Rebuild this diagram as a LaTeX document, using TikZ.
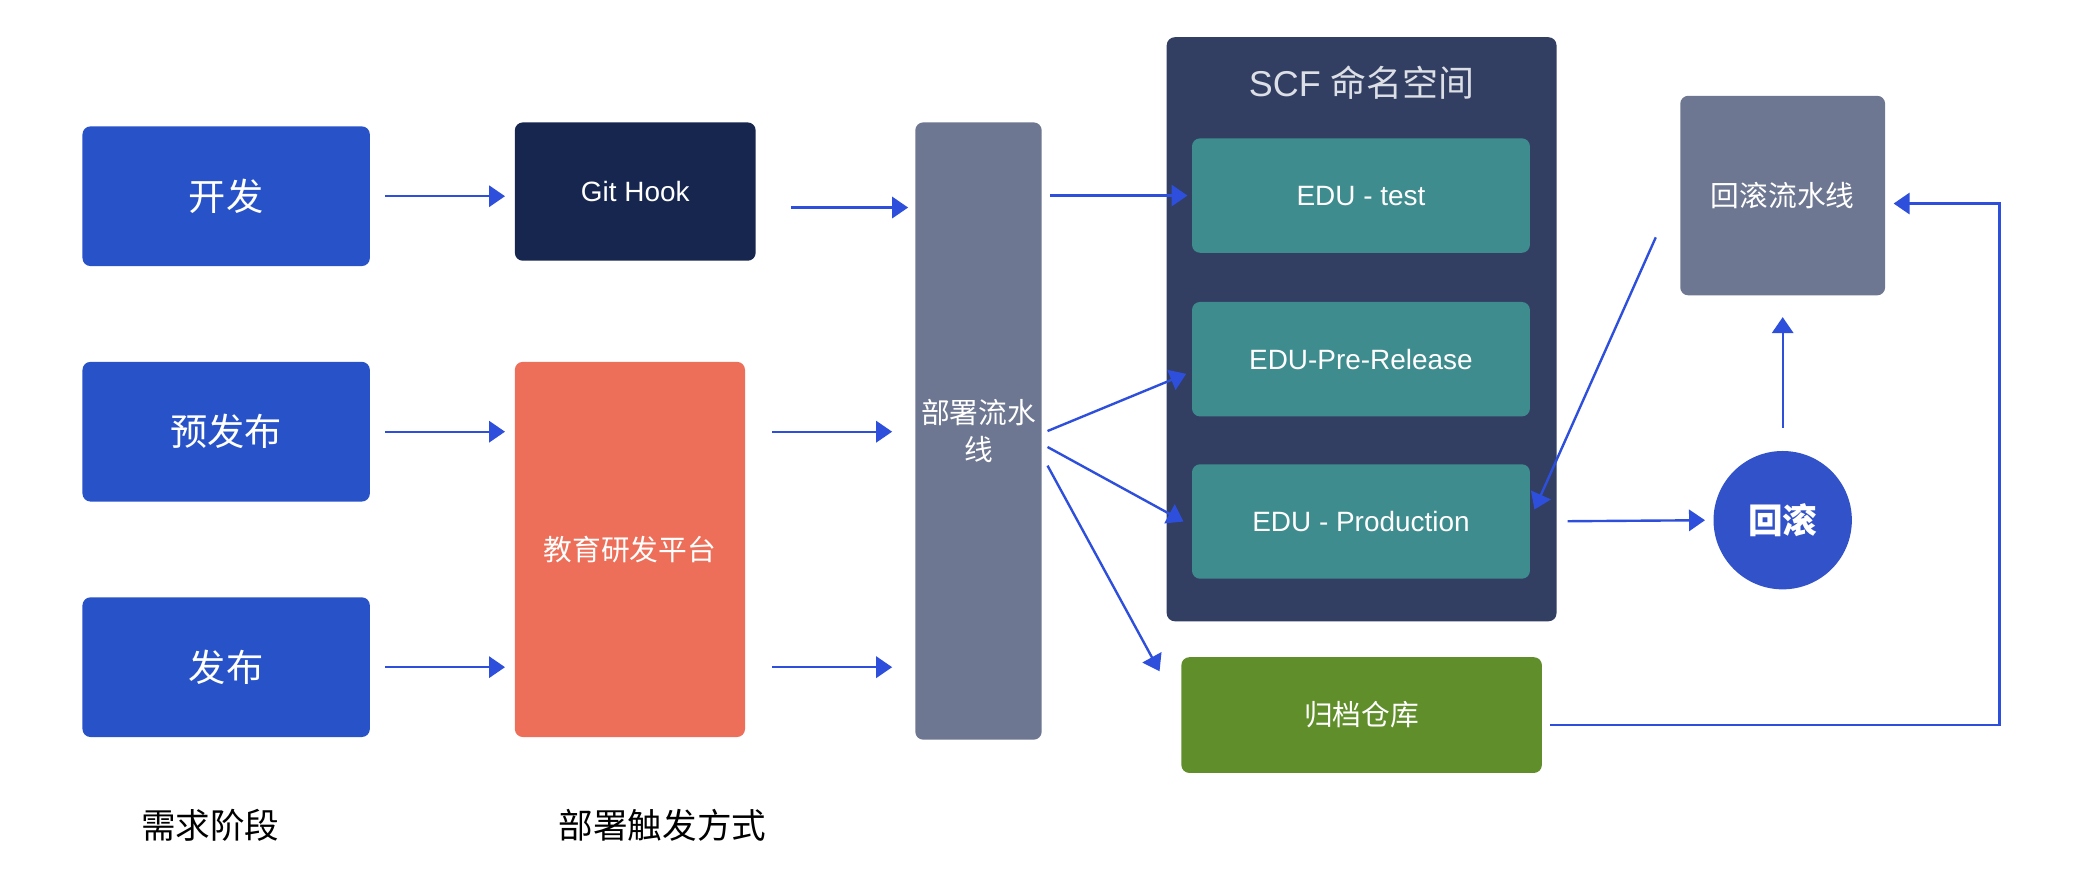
\documentclass[tikz,border=0pt]{standalone}
\usepackage{fontspec}
\setmainfont{Liberation Sans}
\newfontfamily\cjk{Noto Sans CJK SC}
\usetikzlibrary{arrows.meta,positioning,calc}
\definecolor{stageblue}{HTML}{2852C8}
\definecolor{hooknavy}{HTML}{17264F}
\definecolor{platsalmon}{HTML}{EE6F59}
\definecolor{pipegray}{HTML}{6E7791}
\definecolor{scfnavy}{HTML}{323F63}
\definecolor{envteal}{HTML}{3E8C8E}
\definecolor{archgreen}{HTML}{5F8E2A}
\definecolor{rollblue}{HTML}{3152C8}
\definecolor{linkblue}{HTML}{2D4FDB}
\definecolor{titlegray}{HTML}{DCDFE5}

\begin{document}
\begin{tikzpicture}[x=0.5pt,y=-0.5pt,
        every node/.style={text=white, inner sep=0pt, align=center},
        card/.style={rectangle, rounded corners=3pt},
        stage/.style={card, fill=stageblue, minimum width=108pt, minimum height=52.5pt, font=\cjk\fontsize{14}{16}\selectfont},
        env/.style={card, fill=envteal, minimum width=127pt, minimum height=43pt, font=\fontsize{10.5}{12}\selectfont},
        caption/.style={text=black, font=\cjk\fontsize{13}{15}\selectfont},
        link/.style={draw=linkblue, line width=0.9pt, -{Triangle[length=6pt,width=8pt]}}]
    \useasboundingbox (0,0) rectangle (1568,663);

    % requirement stages
    \node[stage] (dev) at (170,147.5) {开发};
    \node[stage] (pre) at (170,324.5) {预发布};
    \node[stage] (rel) at (170,501.5) {发布};

    % triggers
    \node[card, fill=hooknavy, minimum width=90.5pt, minimum height=52pt, font=\fontsize{10.5}{12}\selectfont] (githook) at (477.5,144) {Git Hook};
    \node[card, fill=platsalmon, minimum width=86.5pt, minimum height=141pt, font=\cjk\fontsize{10.8}{13}\selectfont] (platform) at (473.5,413) {教育研发平台};
    \node[card, fill=pipegray, minimum width=47.5pt, minimum height=232pt, font=\cjk\fontsize{10.8}{14}\selectfont] (pipe) at (735.5,324) {部署流水\\线};

    % SCF namespace
    \node[card, fill=scfnavy, minimum width=146.5pt, minimum height=219.5pt] (scf) at (1023.5,247.5) {};
    \node[text=titlegray, font=\fontsize{13.5}{16}\selectfont] (scftitle) at (1023.5,62) {SCF {\cjk 命名空间}};
    \node[env] (test) at (1023,147) {EDU - test};
    \node[env] (prer) at (1023,270) {EDU-Pre-Release};
    \node[env] (prod) at (1023,392) {EDU - Production};
    \node[card, fill=archgreen, minimum width=135.5pt, minimum height=43.5pt, font=\cjk\fontsize{10.8}{13}\selectfont] (archive) at (1023.5,537.5) {归档仓库};

    % rollback
    \node[card, fill=pipegray, minimum width=77pt, minimum height=75pt, font=\cjk\fontsize{10.8}{13}\selectfont] (rbpipe) at (1340,147) {回滚流水线};
    \node[circle, fill=rollblue, minimum size=52pt, font=\cjk\bfseries\fontsize{13}{15}\selectfont] (rb) at (1340,391) {回滚};
    \coordinate (loopcorner) at (1503,153);

    % captions
    \node[caption] (needs) at (158,620) {需求阶段};
    \node[caption] (trigger) at (498,620) {部署触发方式};

    % connectors
    \draw[link, shorten <=5.5pt, shorten >=3.5pt] (dev.east) -- (dev.east -| githook.west);
    \draw[link, shorten <=5.5pt, shorten >=3.5pt] (pre.east) -- (pre.east -| platform.west);
    \draw[link, shorten <=5.5pt, shorten >=3.5pt] (rel.east) -- (rel.east -| platform.west);
    \draw[link, shorten <=13pt, shorten >=2.5pt] ([yshift=-6pt]githook.east) -- ([yshift=-6pt]githook.east -| pipe.west);
    \draw[link, shorten <=10pt, shorten >=8.5pt] (platform.east |- pre) -- (pipe.west |- pre);
    \draw[link, shorten <=10pt, shorten >=8.5pt] (platform.east |- rel) -- (pipe.west |- rel);
    \draw[link, shorten <=3pt, shorten >=1.5pt] (pipe.east |- test) -- (test.west);
    \draw[link] ([xshift=2pt]pipe.east) -- ([xshift=-2pt,yshift=-5.5pt]prer.west);
    \draw[link] ([xshift=2pt,yshift=-6pt]pipe.east) -- ([xshift=-3pt]prod.west);
    \draw[link] ([xshift=2pt,yshift=-13pt]pipe.east) -- ([xshift=-8pt,yshift=-5.5pt]archive.north west);
    \draw[link] ([xshift=-9pt,yshift=22pt]rbpipe.south west) -- ([xshift=1.5pt,yshift=4.5pt]prod.east);
    \draw[link, shorten <=14pt, shorten >=3pt] (prod.east) -- (rb.west);
    \draw[link, shorten <=8.5pt, shorten >=8pt] (rb.north) -- (rbpipe.south);
    \draw[link, shorten <=3pt, shorten >=3pt] ([yshift=-3.75pt]archive.east) -| (loopcorner) -- ([yshift=-3pt]rbpipe.east);
\end{tikzpicture}
\end{document}
